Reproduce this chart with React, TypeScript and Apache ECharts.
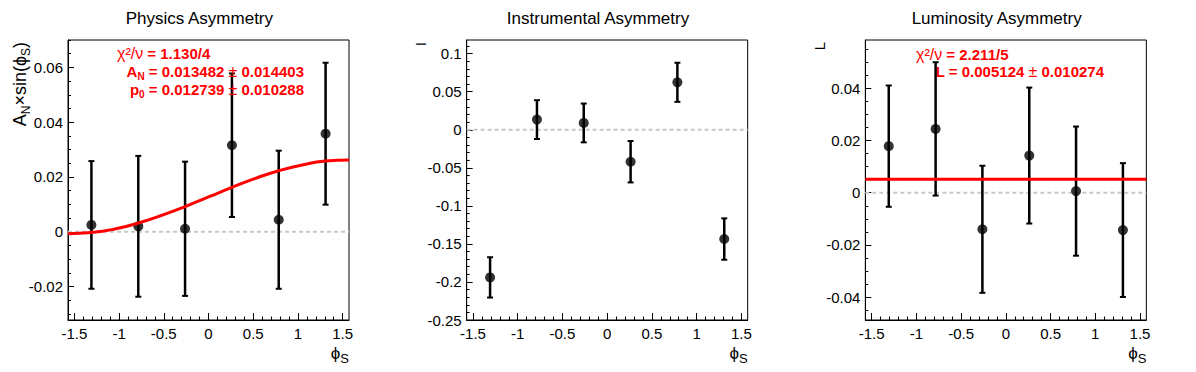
import React, { useEffect, useRef } from "react";
import * as echarts from "echarts";

// ---------- data ----------
const PHI = [-1.309, -0.785, -0.262, 0.262, 0.785, 1.309];

const PHYS_Y = [0.0025, 0.002, 0.0011, 0.0316, 0.0044, 0.0358];
const PHYS_ERR = [0.0233, 0.0257, 0.0245, 0.0262, 0.0252, 0.0259];

const INSTR_Y = [-0.194, 0.0134, 0.009, -0.042, 0.0624, -0.1436];
const INSTR_ERR = [0.0265, 0.0255, 0.0255, 0.0272, 0.0257, 0.0272];

const LUMI_Y = [0.0178, 0.0244, -0.014, 0.0142, 0.0006, -0.0143];
const LUMI_ERR = [0.0232, 0.0255, 0.0243, 0.026, 0.0247, 0.0256];

// fit curve of the physics asymmetry
const FIT_PHYS_X = [-1.5708, -1.309, -1.0472, -0.7854, -0.5236, -0.2618, 0, 0.2618, 0.5236, 0.7854, 1.0472, 1.309, 1.5708];
const FIT_PHYS_Y = [-0.0007, -0.0003, 0.001, 0.0032, 0.006, 0.0092, 0.0127, 0.0162, 0.0195, 0.0223, 0.0244, 0.0258, 0.0262];

// constant fit of the luminosity asymmetry
const FIT_LUMI_X = [-1.5708, 1.5708];
const FIT_LUMI_Y = [0.005124, 0.005124];

// axes
const X_RANGE = [-1.5708, 1.5708];
const X_TICKS = [-1.5, -1, -0.5, 0, 0.5, 1, 1.5];
const PHYS_RANGE = [-0.0322, 0.07];
const PHYS_YTICKS = [-0.02, 0, 0.02, 0.04, 0.06];
const INSTR_RANGE = [-0.25, 0.118];
const INSTR_YTICKS = [-0.25, -0.2, -0.15, -0.1, -0.05, 0, 0.05, 0.1];
const LUMI_RANGE = [-0.0487, 0.0584];
const LUMI_YTICKS = [-0.04, -0.02, 0, 0.02, 0.04];

const TITLES = ["Physics Asymmetry", "Instrumental Asymmetry", "Luminosity Asymmetry"];

const FONT = "'Liberation Sans', Arial, Helvetica, sans-serif";

function minorTicks(from: number, to: number, step: number, majors: number[]) {
  const out: number[] = [];
  const n = Math.round((to - from) / step);
  for (let k = 0; k <= n; k++) {
    const v = Math.round((from + k * step) * 1e6) / 1e6;
    if (!majors.some((m) => Math.abs(m - v) < 1e-9)) out.push(v);
  }
  return out;
}

const PAD_W = 1196 / 3;
const PLOT_L = 68;
const PLOT_W = 281;
const PLOT_T = 40;
const PLOT_H = 280;

export default function App() {
  const ref = useRef<HTMLDivElement>(null);

  useEffect(() => {
    if (!ref.current) return;
    const chart = echarts.init(ref.current, undefined, { renderer: "svg" });

    const panels = [
      { y: PHYS_Y, e: PHYS_ERR, range: PHYS_RANGE, ticks: PHYS_YTICKS, minors: minorTicks(-0.03, 0.07, 0.005, PHYS_YTICKS) },
      { y: INSTR_Y, e: INSTR_ERR, range: INSTR_RANGE, ticks: INSTR_YTICKS, minors: minorTicks(-0.25, 0.11, 0.01, INSTR_YTICKS) },
      { y: LUMI_Y, e: LUMI_ERR, range: LUMI_RANGE, ticks: LUMI_YTICKS, minors: minorTicks(-0.045, 0.055, 0.005, LUMI_YTICKS) },
    ];
    const xMinors = minorTicks(-1.5, 1.5, 0.1, X_TICKS);

    const grids: any[] = [];
    const xAxes: any[] = [];
    const yAxes: any[] = [];
    const series: any[] = [];
    const graphics: any[] = [];

    const tickLine = { color: "#000", width: 1 };
    const labelStyle = { fontSize: 15, color: "#000", fontFamily: FONT };

    panels.forEach((p, i) => {
      const left = i * PAD_W + PLOT_L;
      grids.push({
        left,
        top: PLOT_T,
        width: PLOT_W,
        height: PLOT_H,
        show: true,
        borderColor: "#000",
        borderWidth: 1,
        backgroundColor: "transparent",
      });
      // x major
      xAxes.push({
        type: "value",
        gridIndex: i,
        position: "bottom",
        min: X_RANGE[0],
        max: X_RANGE[1],
        splitLine: { show: false },
        axisLine: { show: true, onZero: false, lineStyle: tickLine },
        axisTick: { show: true, inside: true, length: 7, customValues: X_TICKS, lineStyle: tickLine },
        axisLabel: { show: true, customValues: X_TICKS, formatter: (v: number) => String(v), margin: 6, ...labelStyle },
      });
      // x minor
      xAxes.push({
        type: "value",
        gridIndex: i,
        position: "bottom",
        min: X_RANGE[0],
        max: X_RANGE[1],
        splitLine: { show: false },
        axisLine: { show: false, onZero: false },
        axisTick: { show: true, inside: true, length: 3.5, customValues: xMinors, lineStyle: tickLine },
        axisLabel: { show: false },
      });
      // y major
      yAxes.push({
        type: "value",
        gridIndex: i,
        position: "left",
        min: p.range[0],
        max: p.range[1],
        splitLine: { show: false },
        axisLine: { show: true, onZero: false, lineStyle: tickLine },
        axisTick: { show: true, inside: true, length: 6, customValues: p.ticks, lineStyle: tickLine },
        axisLabel: { show: true, customValues: p.ticks, formatter: (v: number) => String(v), margin: 5, ...labelStyle },
      });
      // y minor
      yAxes.push({
        type: "value",
        gridIndex: i,
        position: "left",
        min: p.range[0],
        max: p.range[1],
        splitLine: { show: false },
        axisLine: { show: false, onZero: false },
        axisTick: { show: true, inside: true, length: 3, customValues: p.minors, lineStyle: tickLine },
        axisLabel: { show: false },
      });

      const xi = 2 * i;
      const yi = 2 * i;

      // zero reference line
      series.push({
        type: "line",
        xAxisIndex: xi,
        yAxisIndex: yi,
        data: [
          [X_RANGE[0], 0],
          [X_RANGE[1], 0],
        ],
        symbol: "none",
        silent: true,
        lineStyle: { color: "#c8c8c8", width: 2, type: [4, 3] },
        z: 1,
      });

      // error bars
      series.push({
        type: "custom",
        xAxisIndex: xi,
        yAxisIndex: yi,
        data: PHI.map((x, k) => [x, p.y[k] - p.e[k], p.y[k] + p.e[k]]),
        encode: { x: 0, y: [1, 2] },
        silent: true,
        z: 2,
        renderItem: (_params: any, api: any) => {
          const lo = api.coord([api.value(0), api.value(1)]);
          const hi = api.coord([api.value(0), api.value(2)]);
          const w = 3;
          const st = { stroke: "#000", lineWidth: 2.5 };
          return {
            type: "group",
            children: [
              { type: "line", shape: { x1: lo[0], y1: lo[1], x2: hi[0], y2: hi[1] }, style: st },
              { type: "line", shape: { x1: lo[0] - w, y1: lo[1], x2: lo[0] + w, y2: lo[1] }, style: { stroke: "#000", lineWidth: 2 } },
              { type: "line", shape: { x1: hi[0] - w, y1: hi[1], x2: hi[0] + w, y2: hi[1] }, style: { stroke: "#000", lineWidth: 2 } },
            ],
          };
        },
      });

      // markers
      series.push({
        type: "scatter",
        xAxisIndex: xi,
        yAxisIndex: yi,
        data: PHI.map((x, k) => [x, p.y[k]]),
        symbol: "circle",
        symbolSize: 10,
        itemStyle: { color: "#000" },
        silent: true,
        z: 3,
      });

      // titles
      graphics.push({
        type: "text",
        x: i * PAD_W + PAD_W / 2,
        y: 18,
        style: { text: TITLES[i], fontSize: 17, fontFamily: FONT, fill: "#000", align: "center", verticalAlign: "middle" },
      });
      // x axis titles
      graphics.push({
        type: "text",
        x: left + PLOT_W,
        y: 353,
        style: {
          text: "{m|ϕ}{s|S}",
          align: "right",
          verticalAlign: "middle",
          rich: {
            m: { fontSize: 17, fontFamily: FONT, fill: "#000", lineHeight: 24, verticalAlign: "middle" },
            s: { fontSize: 13, fontFamily: FONT, fill: "#000", lineHeight: 10, verticalAlign: "bottom" },
          },
        },
      });
    });

    // fit curves
    series.push({
      type: "line",
      xAxisIndex: 0,
      yAxisIndex: 0,
      data: FIT_PHYS_X.map((x, k) => [x, FIT_PHYS_Y[k]]),
      smooth: true,
      symbol: "none",
      silent: true,
      lineStyle: { color: "#ff0000", width: 3 },
      z: 4,
    });
    series.push({
      type: "line",
      xAxisIndex: 4,
      yAxisIndex: 4,
      data: FIT_LUMI_X.map((x, k) => [x, FIT_LUMI_Y[k]]),
      symbol: "none",
      silent: true,
      lineStyle: { color: "#ff0000", width: 3 },
      z: 4,
    });

    // y-axis titles
    graphics.push({
      type: "text",
      x: 20,
      y: 42,
      rotation: Math.PI / 2,
      style: {
        text: "{m|A}{s|N}{m|×sin(ϕ}{s|S}{m|)}",
        align: "right",
        verticalAlign: "middle",
        rich: {
          m: { fontSize: 18, fontFamily: FONT, fill: "#000", lineHeight: 24, verticalAlign: "middle" },
          s: { fontSize: 12, fontFamily: FONT, fill: "#000", lineHeight: 10, verticalAlign: "bottom" },
        },
      },
    });
    graphics.push({
      type: "text",
      x: PAD_W + 22,
      y: 42,
      rotation: Math.PI / 2,
      style: { text: "I", fontSize: 15, fontFamily: FONT, fill: "#000", align: "right", verticalAlign: "middle" },
    });
    graphics.push({
      type: "text",
      x: 2 * PAD_W + 22,
      y: 42,
      rotation: Math.PI / 2,
      style: { text: "L", fontSize: 15, fontFamily: FONT, fill: "#000", align: "right", verticalAlign: "middle" },
    });

    // fit statistics
    const red = "#ff0000";
    const richFit = {
      b: { fontSize: 15, fontWeight: "bold", fontFamily: FONT, fill: red, lineHeight: 20, verticalAlign: "middle" },
      g: { fontSize: 16, fontFamily: FONT, fill: red, lineHeight: 20, verticalAlign: "middle" },
      s: { fontSize: 10, fontWeight: "bold", fontFamily: FONT, fill: red, lineHeight: 8, verticalAlign: "bottom" },
    };
    const fitText = (x: number, y: number, text: string, align: string) => ({
      type: "text",
      x,
      y,
      z: 100,
      style: { text, align, verticalAlign: "middle", rich: richFit },
    });
    graphics.push(fitText(117, 53, "{g|χ²/ν}{b| = 1.130/4}", "left"));
    graphics.push(fitText(304, 71, "{b|A}{s|N}{b| = 0.013482 }{g|±}{b| 0.014403}", "right"));
    graphics.push(fitText(304, 89, "{b|p}{s|0}{b| = 0.012739 }{g|±}{b| 0.010288}", "right"));
    graphics.push(fitText(916, 54, "{g|χ²/ν}{b| = 2.211/5}", "left"));
    graphics.push(fitText(1104, 71, "{b|L = 0.005124 }{g|±}{b| 0.010274}", "right"));

    chart.setOption({
      animation: false,
      backgroundColor: "#fff",
      grid: grids,
      xAxis: xAxes,
      yAxis: yAxes,
      series,
      graphic: graphics,
    });

    return () => chart.dispose();
  }, []);

  return (
    <div
      ref={ref}
      style={{ position: "fixed", left: 0, top: 0, width: 1196, height: 372, background: "#fff" }}
    />
  );
}
